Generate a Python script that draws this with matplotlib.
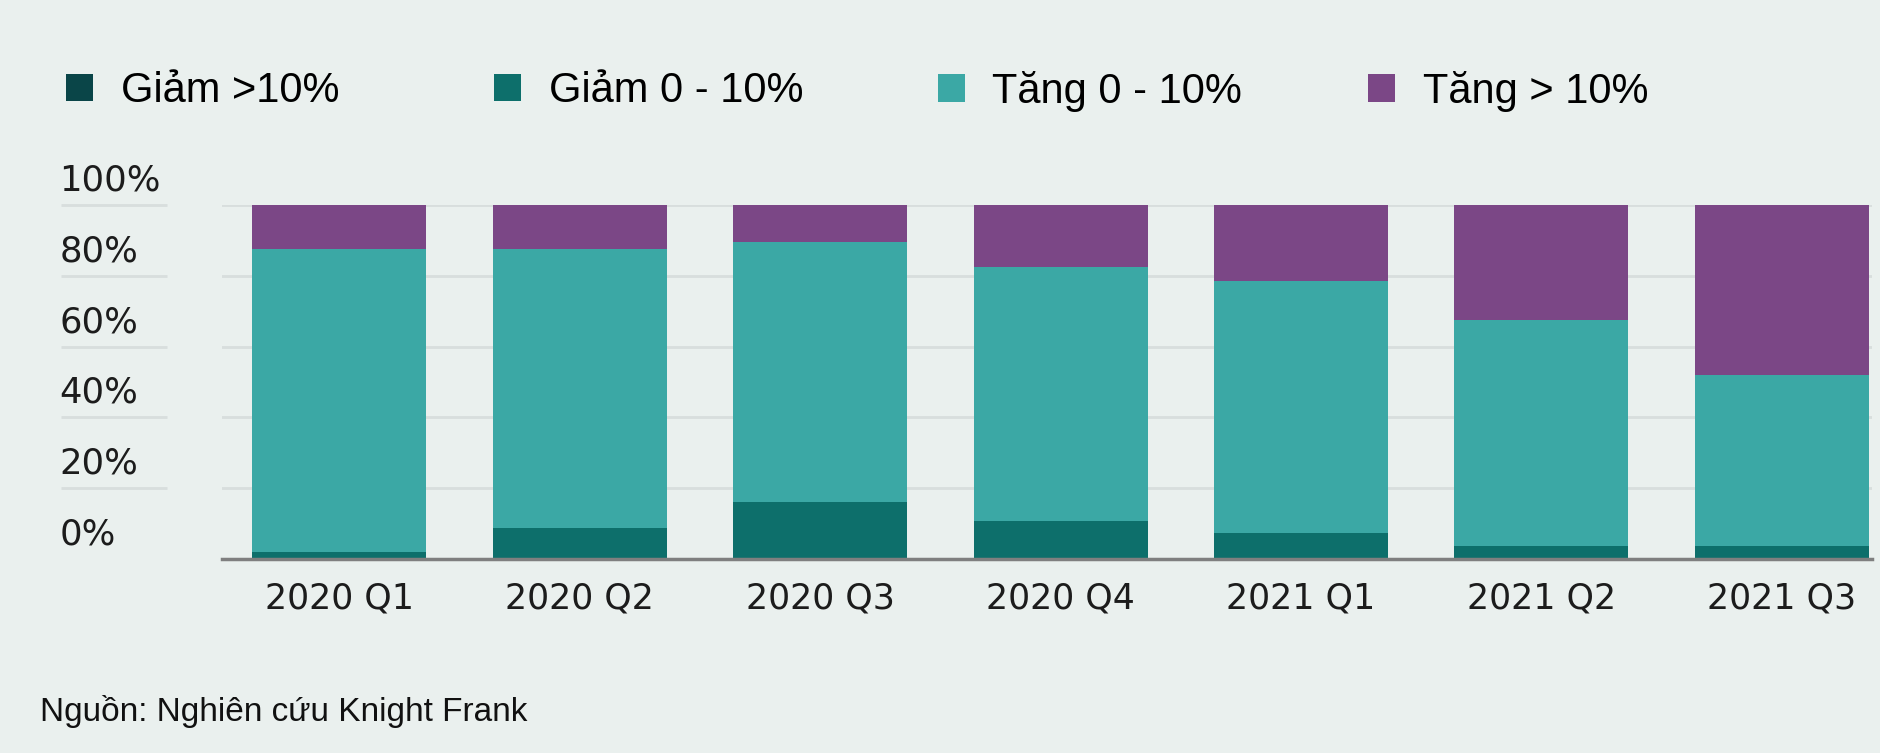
import numpy as np
import matplotlib
matplotlib.use('Agg')
import matplotlib.pyplot as plt
from matplotlib import transforms

# du lieu doc tu hinh (%)
quarters = ['2020 Q1', '2020 Q2', '2020 Q3', '2020 Q4', '2021 Q1', '2021 Q2', '2021 Q3']
giam_tren_10 = [0, 0, 0, 0, 0, 0, 0]
giam_0_10 = [2.1, 8.9, 16.0, 10.7, 7.3, 3.8, 3.8]
tang_0_10 = [85.6, 78.8, 73.5, 71.7, 71.2, 63.6, 48.1]
tang_tren_10 = [12.3, 12.3, 10.5, 17.6, 21.5, 32.6, 48.1]
series_names = ['Giảm >10%', 'Giảm 0 - 10%', 'Tăng 0 - 10%', 'Tăng > 10%']
yticks = [0, 20, 40, 60, 80, 100]
ytick_labels = ['0%', '20%', '40%', '60%', '80%', '100%']

BG = '#EAF0EE'
colors = ['#0A4548', '#0D6F6B', '#3BA8A5', '#7B4786']

fig = plt.figure(figsize=(18.8, 7.53), dpi=100, facecolor=BG)
ax = fig.add_axes([0.1181, 0.2576, 0.8777, 0.4702], facecolor=BG)

x = np.arange(len(quarters))
bottom = np.zeros(len(quarters))
handles = []
for vals, name, c in zip([giam_tren_10, giam_0_10, tang_0_10, tang_tren_10], series_names, colors):
    b = ax.bar(x, vals, width=0.724, bottom=bottom, color=c, label=name, linewidth=0, zorder=3)
    handles.append(b)
    bottom = bottom + np.array(vals)

ax.set_xlim(-0.488, 6.376)
ax.set_ylim(0, 100)
for s in ['top', 'right', 'left']:
    ax.spines[s].set_visible(False)
ax.spines['bottom'].set_color('#7F7F7F')
ax.spines['bottom'].set_linewidth(2.5)
ax.spines['bottom'].set_zorder(4)

ax.set_xticks(x)
ax.set_xticklabels(quarters, fontsize=25, color='#1C1C1C', family='DejaVu Sans')
ax.tick_params(axis='x', length=0, pad=16)

ax.set_yticks(yticks)
ax.set_yticklabels(ytick_labels, fontsize=25.5, color='#1C1C1C', family='DejaVu Sans')
ax.tick_params(axis='y', length=0, pad=117)
offset = transforms.ScaledTranslation(0, 0.28, fig.dpi_scale_trans)
for lab in ax.get_yticklabels():
    lab.set_horizontalalignment('left')
    lab.set_transform(lab.get_transform() + offset)

ax.yaxis.grid(True, color='#D8DEDD', linewidth=2, zorder=0)
ax.set_axisbelow(True)
# doan luoi nho duoi nhan truc y
ax.hlines(yticks[1:], -0.0976, -0.0333, transform=ax.get_yaxis_transform(),
          colors='#D8DEDD', linewidth=2, clip_on=False)

# chu thich: moi muc mot legend rieng de dat dung vi tri
legend_x = [0.0351, 0.2628, 0.4987, 0.7277]
for h, name, lx in zip(handles, series_names, legend_x):
    leg = fig.legend(handles=[h], labels=[name], loc='center left',
                     bbox_to_anchor=(lx, 0.879), frameon=False,
                     prop={'family': ['Liberation Sans', 'DejaVu Sans'], 'size': 30},
                     handlelength=0.65, handleheight=0.65, handletextpad=0.66,
                     borderpad=0, borderaxespad=0)

fig.text(0.0213, 0.055, 'Nguồn: Nghiên cứu Knight Frank', fontsize=24,
         family=['Liberation Sans', 'DejaVu Sans'], color='#111111', va='center')

fig.savefig('out.png', dpi=100, facecolor=BG)
